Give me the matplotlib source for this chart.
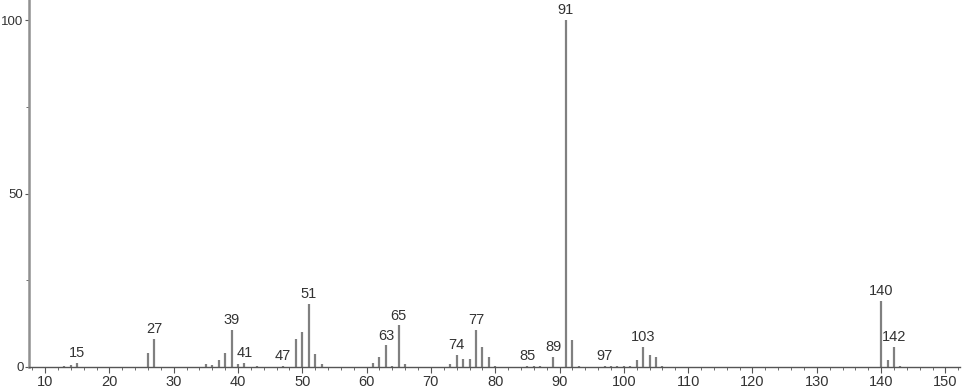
import numpy as np
import matplotlib
matplotlib.use("Agg")
import matplotlib.pyplot as plt

# m/z and relative intensity
mz = [13, 14, 15, 26, 27, 35, 36, 37, 38, 39, 40, 41, 43, 47, 49, 50, 51, 52, 53,
      61, 62, 63, 64, 65, 66, 73, 74, 75, 76, 77, 78, 79, 80, 85, 86, 87, 89,
      91, 92, 93, 97, 98, 99, 100, 101, 102, 103, 104, 105, 106, 140, 141, 142, 143]
intensity = [0.3, 0.5, 1.1, 3.9, 8.1, 0.8, 0.5, 2.0, 3.9, 10.7, 0.8, 1.2, 0.3, 0.3, 8.1, 10.2, 18.2, 3.7, 0.8,
             1.2, 3.0, 6.2, 0.3, 12.0, 1.0, 0.8, 3.4, 2.2, 2.3, 10.6, 5.8, 2.9, 0.4, 0.3, 0.3, 0.4, 2.8,
             100, 7.9, 0.4, 0.3, 0.3, 0.3, 0.3, 0.4, 1.9, 5.8, 3.5, 3.0, 0.4, 19.1, 2.1, 5.8, 0.3]
labeled = [15, 27, 39, 41, 47, 51, 63, 65, 74, 77, 85, 89, 91, 97, 103, 140, 142]

plt.rcParams['font.family'] = ['Liberation Sans', 'DejaVu Sans']

fig = plt.figure(figsize=(9.66, 3.89), dpi=100)
ax = fig.add_axes([0.030, 0.0566, 0.964, 0.9434])

ax.vlines(mz, 0, intensity, color='#808080', lw=1.6)

lookup = dict(zip(mz, intensity))
for m in labeled:
    ax.text(m, lookup[m] + 0.8, str(m), ha='center', va='bottom',
            fontsize=10.5, color='#333333')

ax.set_xlim(7.5, 152.3)
ax.set_ylim(0, 105.8)
ax.set_xticks(np.arange(10, 151, 10))
ax.set_xticks(np.arange(8, 153, 2), minor=True)
ax.set_yticks([0, 50, 100])
ax.set_yticks([25, 75], minor=True)

for s in ['top', 'right']:
    ax.spines[s].set_visible(False)
ax.spines['left'].set_color('#909090')
ax.spines['left'].set_linewidth(1.8)
ax.spines['bottom'].set_color('#555555')
ax.spines['bottom'].set_linewidth(1.0)

ax.tick_params(axis='x', which='major', length=4, color='#555555',
               labelsize=10.5, labelcolor='#333333', pad=2)
ax.tick_params(axis='y', which='major', length=3, color='#555555',
               labelsize=9.5, labelcolor='#333333', pad=1)
ax.tick_params(axis='both', which='minor', length=2, color='#555555')

fig.savefig('out.png', dpi=100)
